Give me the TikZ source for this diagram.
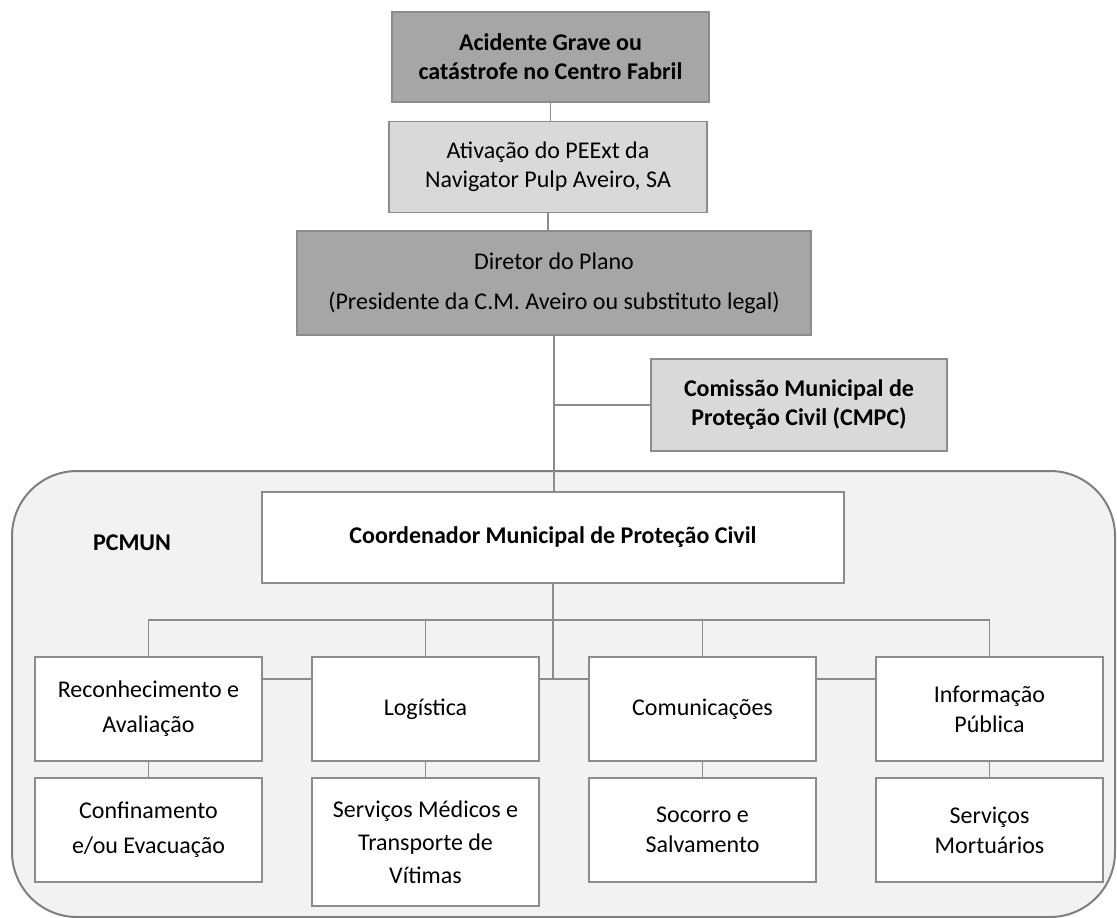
\documentclass[tikz,border=0pt]{standalone}
\usepackage{fontspec}
\setmainfont{Carlito}
\definecolor{rule}{HTML}{8C8C8C}
\definecolor{panelrule}{HTML}{7F7F7F}
\definecolor{panelfill}{HTML}{F2F2F2}
\definecolor{dark}{HTML}{A6A6A6}
\definecolor{light}{HTML}{D9D9D9}
\tikzset{
  orgbox/.style={draw=rule, line width=1.3pt, fill=white, inner sep=0pt, align=center,
    font=\fontsize{24}{29}\selectfont},
  unitbox/.style={orgbox, minimum width=227pt, minimum height=104pt,
    font=\fontsize{24}{#1}\selectfont},
  unitbox/.default=30,
  link/.style={draw=rule, line width=1.3pt}
}
\begin{document}
\begin{tikzpicture}[x=1pt, y=-1pt]
  \useasboundingbox (0,0) rectangle (1117,918);
  % municipal command post panel
  \draw[panelrule, line width=2pt, fill=panelfill, rounded corners=65pt] (12,471) rectangle (1115,917);
  \node[font=\fontsize{24}{29}\selectfont\bfseries] (pcmun) at (132,543) {PCMUN};

  \node[orgbox, fill=dark, minimum width=317pt, minimum height=90pt, font=\fontsize{24}{29}\selectfont\bfseries]
    (acidente) at (550.5,57) {Acidente Grave ou\\catástrofe no Centro Fabril};
  \node[orgbox, fill=light, minimum width=318pt, minimum height=91pt]
    (ativacao) at (548,167) {Ativação do PEExt da\\Navigator Pulp Aveiro, SA};
  \node[orgbox, fill=dark, minimum width=514pt, minimum height=104pt]
    (diretor) at (554,283) {Diretor do Plano\\[11pt](Presidente da C.M. Aveiro ou substituto legal)};
  \node[orgbox, fill=light, minimum width=296pt, minimum height=92pt, font=\fontsize{24}{29}\selectfont\bfseries]
    (cmpc) at (799,405) {Comissão Municipal de\\Proteção Civil (CMPC)};
  \node[orgbox, minimum width=582pt, minimum height=91pt, font=\fontsize{24}{29}\selectfont\bfseries]
    (coord) at (553,537.5) {Coordenador Municipal de Proteção Civil};

  % first row of units
  \node[unitbox=35] (rec) at (148.5,709) {Reconhecimento e\\Avaliação};
  \node[unitbox] (log) at (425.5,709) {Logística};
  \node[unitbox] (com) at (702.5,709) {Comunicações};
  \node[unitbox] (inf) at (989.5,709) {Informação\\Pública};
  % second row
  \node[unitbox=35] (conf) at (148.5,830) {Confinamento\\e/ou Evacuação};
  \node[unitbox=33, minimum height=128pt] (med) at (425.5,842) {Serviços Médicos e\\Transporte de\\Vítimas};
  \node[unitbox] (soc) at (702.5,830) {Socorro e\\Salvamento};
  \node[unitbox] (mort) at (989.5,830) {Serviços\\Mortuários};

  \coordinate (bus) at (0,620);
  \coordinate (mid) at (0,679);

  \draw[link] (acidente.south) -- (acidente.south |- ativacao.north);
  \draw[link] (ativacao.south) -- (ativacao.south |- diretor.north);
  \draw[link] (diretor.south) -- (diretor.south |- coord.north);
  \draw[link] (diretor.south |- cmpc.west) -- (cmpc.west);
  \draw[link] (coord.south) -- (coord.south |- mid);
  \draw[link] (rec.north) -- (rec.north |- bus) -- (inf.north |- bus) -- (inf.north);
  \foreach \n in {log,com}
    \draw[link] (\n.north) -- (\n.north |- bus);
  \foreach \a/\b in {rec/log, log/com, com/inf}
    \draw[link] (\a.east |- mid) -- (\b.west |- mid);
  \foreach \a/\b in {rec/conf, log/med, com/soc, inf/mort}
    \draw[link] (\a.south) -- (\b.north);
\end{tikzpicture}
\end{document}
